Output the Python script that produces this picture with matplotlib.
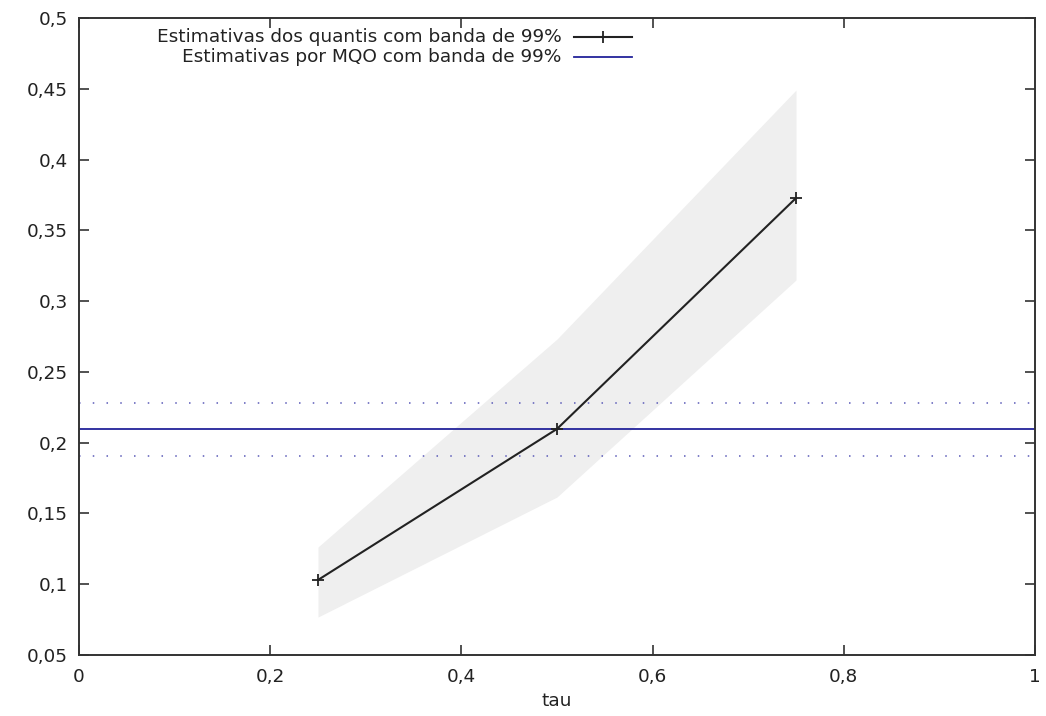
import numpy as np
import matplotlib
matplotlib.use("Agg")
import matplotlib.pyplot as plt
from matplotlib.ticker import FuncFormatter

# quantile estimates with 99% band
tau = [0.25, 0.5, 0.75]
coef = [0.103, 0.2097, 0.3728]
lower = [0.0768, 0.1616, 0.3149]
upper = [0.1263, 0.2732, 0.4491]

# OLS estimate with 99% band
ols = 0.2097
ols_lo = 0.1906
ols_hi = 0.2280

labels = ["Estimativas dos quantis com banda de 99%",
          "Estimativas por MQO com banda de 99%"]

xticks = [0, 0.2, 0.4, 0.6, 0.8, 1]
yticks = [0.05, 0.1, 0.15, 0.2, 0.25, 0.3, 0.35, 0.4, 0.45, 0.5]

plt.rcParams['font.family'] = ['DejaVu Sans']
plt.rcParams['font.size'] = 13.3

fig = plt.figure(figsize=(10.46, 7.16), dpi=100)
ax = fig.add_axes([79/1046, 61/716, 956/1046, 637/716])

blue = '#23239a'

ax.fill_between(tau, lower, upper, color='#efefef', lw=0, zorder=1)
ax.axhline(ols, color=blue, lw=1.3, zorder=2)
ax.axhline(ols_hi, color='#5a5ab8', lw=1.1, ls=(0, (1, 8)), zorder=2)
ax.axhline(ols_lo, color='#5a5ab8', lw=1.1, ls=(0, (1, 8)), zorder=2)
ax.plot(tau, coef, color='#222222', lw=1.5, marker='+', ms=8, mew=1.3, zorder=3)

ax.set_xlim(0, 1)
ax.set_ylim(0.05, 0.5)
ax.set_xticks(xticks)
ax.set_yticks(yticks)

def comma(v, pos):
    s = ('%.2f' % v).rstrip('0').rstrip('.')
    return s.replace('.', ',')

ax.xaxis.set_major_formatter(FuncFormatter(comma))
ax.yaxis.set_major_formatter(FuncFormatter(comma))
ax.tick_params(direction='in', length=7, width=1.2, color='#333333',
               top=True, right=True, labelcolor='#222222')
ax.tick_params(axis='y', pad=8)
ax.tick_params(axis='x', pad=9)
for s in ax.spines.values():
    s.set_color('#333333')
    s.set_linewidth(1.4)

ax.set_xlabel('tau', labelpad=5, color='#222222')

# legend, gnuplot style (text right aligned, sample to the right)
rows = [0.970, 0.939]
ax.text(0.505, rows[0], labels[0], transform=ax.transAxes, ha='right', va='center', color='#222222')
ax.text(0.505, rows[1], labels[1], transform=ax.transAxes, ha='right', va='center', color='#222222')
ax.plot([0.518, 0.578], [rows[0]] * 2, transform=ax.transAxes, color='#222222', lw=1.5)
ax.plot([0.548], [rows[0]], transform=ax.transAxes, color='#222222', marker='+', ms=8, mew=1.3)
ax.plot([0.518, 0.578], [rows[1]] * 2, transform=ax.transAxes, color=blue, lw=1.3)

fig.savefig('out.png', dpi=100)
